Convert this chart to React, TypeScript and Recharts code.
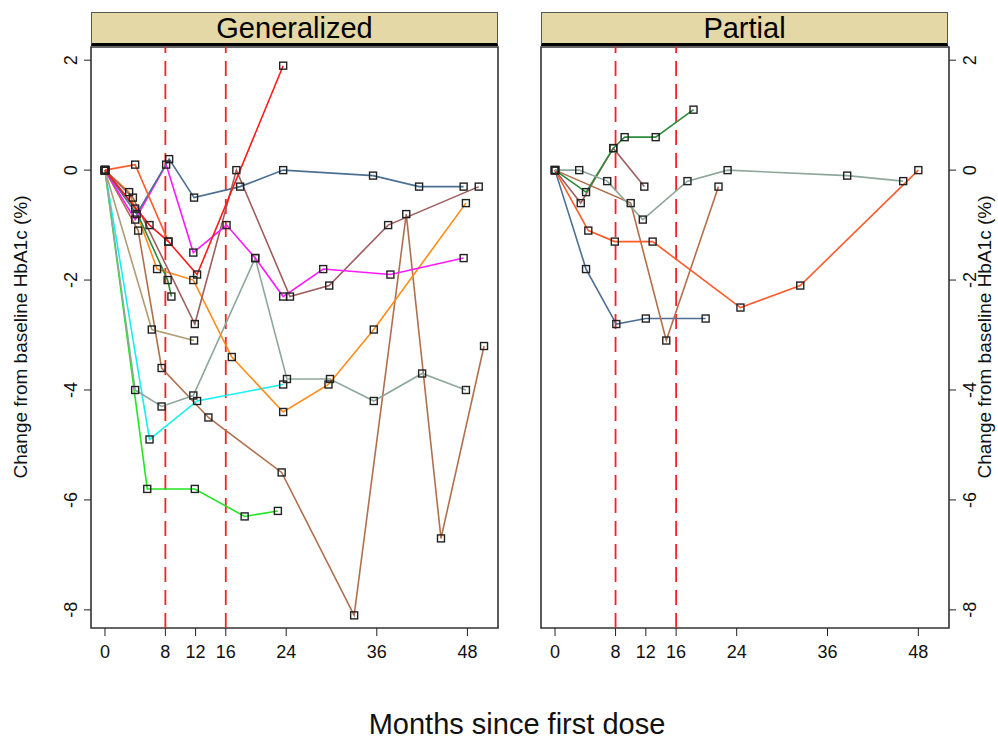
import React from 'react';
import { LineChart, Line, XAxis, YAxis, ReferenceLine, ReferenceArea } from 'recharts';

type Pt = [number, number];

const xTicks = [0, 8, 12, 16, 24, 36, 48];
const yTicks = [-8, -6, -4, -2, 0, 2];
const panelTitles = ['Generalized', 'Partial'];
const doseLines = [8, 16];

// Generalized panel: [month, change %]
const genRed: Pt[] = [[0, 0], [5.9, -1.0], [8.4, -1.3], [12.2, -1.9], [23.6, 1.9]];
const genTomato: Pt[] = [[0, 0], [4.0, 0.1], [8.4, -1.3]];
const genSteel: Pt[] = [[0, 0], [4.2, -0.8], [8.5, 0.2], [11.8, -0.5], [17.9, -0.3], [23.6, 0], [35.5, -0.1], [41.6, -0.3], [47.5, -0.3]];
const genMagenta: Pt[] = [[0, 0], [4.0, -0.9], [8.1, 0.1], [11.7, -1.5], [16.1, -1.0], [19.9, -1.6], [23.6, -2.3], [28.9, -1.8], [37.8, -1.9], [47.5, -1.6]];
const genRose: Pt[] = [[0, 0], [3.7, -0.5], [11.9, -2.8], [17.4, 0], [24.5, -2.3], [29.7, -2.1], [37.5, -1.0], [49.5, -0.3]];
const genDarkGreen: Pt[] = [[0, 0], [4.0, -0.7], [8.3, -2.0], [8.8, -2.3]];
const genOrange: Pt[] = [[0, 0], [3.2, -0.4], [6.9, -1.8], [11.7, -2.0], [16.8, -3.4], [23.6, -4.4], [29.6, -3.9], [35.6, -2.9], [47.8, -0.6]];
const genTan: Pt[] = [[0, 0], [6.2, -2.9], [11.8, -3.1]];
const genSage: Pt[] = [[0, 0], [4.0, -4.0], [7.5, -4.3], [11.7, -4.1], [19.9, -1.6], [24.1, -3.8], [29.8, -3.8], [35.6, -4.2], [42.0, -3.7], [47.8, -4.0]];
const genCyan: Pt[] = [[0, 0], [5.9, -4.9], [12.2, -4.2], [23.6, -3.9]];
const genLime: Pt[] = [[0, 0], [5.6, -5.8], [11.9, -5.8], [18.5, -6.3], [22.9, -6.2]];
const genSienna: Pt[] = [[0, 0], [4.4, -1.1], [7.5, -3.6], [13.7, -4.5], [23.4, -5.5], [33.0, -8.1], [39.9, -0.8], [44.5, -6.7], [50.2, -3.2]];

// Partial panel
const parSage: Pt[] = [[0, 0], [3.2, 0], [6.9, -0.2], [11.6, -0.9], [17.5, -0.2], [22.8, 0], [38.6, -0.1], [46.0, -0.2]];
const parTomato: Pt[] = [[0, 0], [4.4, -1.1], [7.9, -1.3], [12.9, -1.3], [24.5, -2.5], [32.4, -2.1], [48.0, 0]];
const parDarkGreen: Pt[] = [[0, 0], [4.1, -0.4], [7.7, 0.4], [9.2, 0.6], [13.3, 0.6], [18.3, 1.1]];
const parRose: Pt[] = [[0, 0], [3.4, -0.6], [7.7, 0.4], [11.8, -0.3]];
const parSienna: Pt[] = [[0, 0], [10.0, -0.6], [14.7, -3.1], [21.6, -0.3]];
const parSteel: Pt[] = [[0, 0], [4.1, -1.8], [8.1, -2.8], [12.0, -2.7], [19.9, -2.7]];

const C = {
  red: '#FF1A1A',
  tomato: '#FF5A2A',
  steel: '#4C6F93',
  magenta: '#FF19FF',
  rose: '#9E5E5E',
  darkGreen: '#2E8B3A',
  orange: '#FF8C1A',
  tan: '#B09C74',
  sage: '#8DA89B',
  cyan: '#19F0F0',
  lime: '#22E622',
  sienna: '#B0704E',
};

const genSeries: { name: string; pts: Pt[]; color: string }[] = [
  { name: 'g1', pts: genSienna, color: C.sienna },
  { name: 'g2', pts: genLime, color: C.lime },
  { name: 'g3', pts: genCyan, color: C.cyan },
  { name: 'g4', pts: genSage, color: C.sage },
  { name: 'g5', pts: genTan, color: C.tan },
  { name: 'g6', pts: genOrange, color: C.orange },
  { name: 'g7', pts: genDarkGreen, color: C.darkGreen },
  { name: 'g8', pts: genRose, color: C.rose },
  { name: 'g9', pts: genMagenta, color: C.magenta },
  { name: 'g10', pts: genSteel, color: C.steel },
  { name: 'g11', pts: genTomato, color: C.tomato },
  { name: 'g12', pts: genRed, color: C.red },
];

const parSeries: { name: string; pts: Pt[]; color: string }[] = [
  { name: 'p1', pts: parSteel, color: C.steel },
  { name: 'p2', pts: parSienna, color: C.sienna },
  { name: 'p3', pts: parRose, color: C.rose },
  { name: 'p4', pts: parDarkGreen, color: C.darkGreen },
  { name: 'p5', pts: parTomato, color: C.tomato },
  { name: 'p6', pts: parSage, color: C.sage },
];

const X_DOMAIN: [number, number] = [-1.85, 52.05];
const Y_DOMAIN: [number, number] = [-8.33, 2.24];
const FONT = '"Liberation Sans", Arial, sans-serif';

const toData = (pts: Pt[]) => pts.map(([x, y]) => ({ x, y }));

const SquareDot = (props: any) => {
  const { cx, cy, index } = props;
  if (cx == null || cy == null) return <g key={`d${index}`} />;
  return (
    <rect key={`d${index}`} x={cx - 3.5} y={cy - 3.5} width={7} height={7} fill="none" stroke="#222" strokeWidth={1.4} />
  );
};

const XTick = (props: any) => {
  const { x, y, payload } = props;
  return (
    <text x={x} y={y + 20} textAnchor="middle" fontSize={18} fontFamily={FONT} fill="#111">
      {payload.value}
    </text>
  );
};

const YTickLeft = (props: any) => {
  const { x, y, payload } = props;
  return (
    <text transform={`translate(${x - 5}, ${y}) rotate(-90)`} textAnchor="middle" fontSize={18} fontFamily={FONT} fill="#111">
      {payload.value}
    </text>
  );
};

const YTickRight = (props: any) => {
  const { x, y, payload } = props;
  return (
    <text transform={`translate(${x + 18}, ${y}) rotate(-90)`} textAnchor="middle" fontSize={18} fontFamily={FONT} fill="#111">
      {payload.value}
    </text>
  );
};

const Panel = ({ series, side }: { series: { name: string; pts: Pt[]; color: string }[]; side: 'left' | 'right' }) => {
  const isLeft = side === 'left';
  const width = isLeft ? 520 : 478;
  const margin = isLeft
    ? { top: 47, left: 51, right: 22, bottom: 12 }
    : { top: 47, left: 21, right: 9, bottom: 12 };
  return (
    <LineChart width={width} height={680} margin={margin}>
      <XAxis
        type="number"
        dataKey="x"
        domain={X_DOMAIN}
        ticks={xTicks}
        interval={0}
        allowDataOverflow
        height={40}
        tickSize={8}
        tickMargin={2}
        axisLine={false}
        tickLine={{ stroke: '#222', strokeWidth: 1 }}
        tick={<XTick />}
      />
      <YAxis
        type="number"
        dataKey="y"
        orientation={isLeft ? 'left' : 'right'}
        domain={Y_DOMAIN}
        ticks={yTicks}
        interval={0}
        allowDataOverflow
        width={40}
        tickSize={7}
        tickMargin={2}
        axisLine={false}
        tickLine={{ stroke: '#222', strokeWidth: 1 }}
        tick={isLeft ? <YTickLeft /> : <YTickRight />}
      />
      {doseLines.map((d) => (
        <ReferenceLine key={`r${d}`} x={d} stroke="#FF2020" strokeWidth={1.8} strokeDasharray="15 8" />
      ))}
      {series.map((s) => (
        <Line
          key={s.name}
          data={toData(s.pts)}
          dataKey="y"
          type="linear"
          stroke={s.color}
          strokeWidth={1.6}
          dot={<SquareDot />}
          activeDot={false}
          isAnimationActive={false}
        />
      ))}
      <ReferenceArea
        x1={X_DOMAIN[0]}
        x2={X_DOMAIN[1]}
        y1={Y_DOMAIN[0]}
        y2={Y_DOMAIN[1]}
        fill="none"
        fillOpacity={0}
        stroke="#333"
        strokeWidth={1.6}
        ifOverflow="visible"
      />
    </LineChart>
  );
};

const stripStyle = (left: number): React.CSSProperties => ({
  position: 'absolute',
  left,
  top: 12,
  width: 407,
  height: 34,
  background: '#E4D8A6',
  borderTop: '1px solid #555',
  borderLeft: '1px solid #555',
  borderRight: '1px solid #555',
  borderBottom: '3px solid #000',
  boxSizing: 'border-box',
  fontFamily: FONT,
  fontSize: 29,
  lineHeight: '30px',
  textAlign: 'center',
  color: '#000',
});

export default function App() {
  const yLabel = 'Change from baseline HbA1c (%)';
  return (
    <div style={{ position: 'absolute', left: 0, top: 0, width: 998, height: 741, background: '#fff', overflow: 'hidden' }}>
      <div style={{ position: 'absolute', left: 0, top: 0 }}>
        <Panel series={genSeries} side="left" />
      </div>
      <div style={{ position: 'absolute', left: 520, top: 0 }}>
        <Panel series={parSeries} side="right" />
      </div>
      <div style={stripStyle(91)}>{panelTitles[0]}</div>
      <div style={stripStyle(541)}>{panelTitles[1]}</div>
      <div
        style={{
          position: 'absolute',
          left: 21,
          top: 337,
          transform: 'translate(-50%, -50%) rotate(-90deg)',
          whiteSpace: 'nowrap',
          fontFamily: FONT,
          fontSize: 19,
          color: '#111',
        }}
      >
        {yLabel}
      </div>
      <div
        style={{
          position: 'absolute',
          left: 985,
          top: 337,
          transform: 'translate(-50%, -50%) rotate(-90deg)',
          whiteSpace: 'nowrap',
          fontFamily: FONT,
          fontSize: 19,
          color: '#111',
        }}
      >
        {yLabel}
      </div>
      <div
        style={{
          position: 'absolute',
          left: 0,
          width: 1034,
          top: 708,
          textAlign: 'center',
          fontFamily: FONT,
          fontSize: 29,
          color: '#111',
        }}
      >
        Months since first dose
      </div>
    </div>
  );
}
